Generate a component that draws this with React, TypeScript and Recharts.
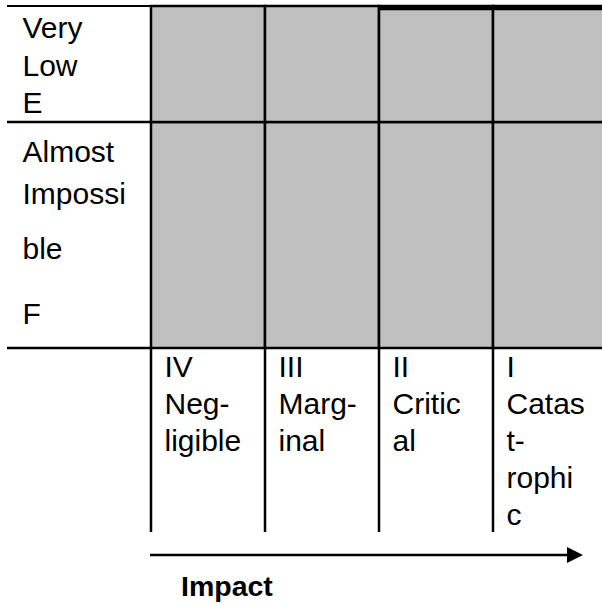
import { BarChart, Bar, XAxis, YAxis } from 'recharts'

// impact columns, left to right
const impactCodes = ['IV', 'III', 'II', 'I']
const impactNames = [
  ['Neg-', 'ligible'],
  ['Marg-', 'inal'],
  ['Critic', 'al'],
  ['Catas', 't-', 'rophi', 'c'],
]

// likelihood rows, bottom to top
const likelihoodCodes = ['F', 'E']
const likelihoodNames = [
  ['Almost', 'Impossi', 'ble'],
  ['Very', 'Low'],
]

const axisTitle = 'Impact'

// layout
const W = 610
const H = 604
const MARGIN = { top: 6, right: 3, left: 7, bottom: 0 }
const Y_AXIS_W = 144
const X_AXIS_H = 256
const PLOT_LEFT = MARGIN.left + Y_AXIS_W
const PLOT_W = W - MARGIN.left - MARGIN.right - Y_AXIS_W
const ROW_SPAN = [1.95, 1] // relative row heights, F then E
const LABEL_ROW_H = 184
const FONT = '"Liberation Sans", Arial, sans-serif'
const LINE_W = 2.5
const GRAY = '#c0c0c0'

// baselines of the row label lines, measured from the row top
const ROW_LINE_OFFSETS = [
  [40, 82, 137, 202],
  [32, 70, 107],
]
const COL_FIRST_LINE = 29
const COL_LINE_STEP = 37

const tableData = impactCodes.map(code => {
  const row: Record<string, string | number> = { code }
  likelihoodCodes.forEach((r, i) => (row[r] = ROW_SPAN[i]))
  return row
})

const rowBounds = ROW_SPAN.reduce<number[]>((acc, s) => [...acc, acc[acc.length - 1] + s], [0])
const yMax = rowBounds[rowBounds.length - 1]

function RowTick(props: any) {
  const { y, index } = props
  const row = index - 1 // tick 1 is top of F, tick 2 is top of E
  const lines = row >= 0 ? [...likelihoodNames[row], likelihoodCodes[row]] : []
  const isTop = index === rowBounds.length - 1
  return (
    <g>
      <line x1={MARGIN.left} x2={PLOT_LEFT} y1={y} y2={y} stroke="#000" strokeWidth={isTop ? 2 : LINE_W} />
      {isTop && (
        <line
          x1={PLOT_LEFT + (PLOT_W / impactCodes.length) * 2}
          x2={W}
          y1={y + 2}
          y2={y + 2}
          stroke="#000"
          strokeWidth={4.5}
        />
      )}
      {lines.map((t, i) => (
        <text key={t} x={MARGIN.left + 15.5} y={y + ROW_LINE_OFFSETS[row][i]} fontSize={30} fontFamily={FONT} fill="#000">
          {t}
        </text>
      ))}
    </g>
  )
}

function ImpactTick(props: any) {
  const { x, y, index } = props
  const bw = PLOT_W / impactCodes.length
  const left = x - bw / 2
  const lines = [impactCodes[index], ...impactNames[index]]
  return (
    <g>
      <line x1={left} x2={left} y1={y} y2={y + LABEL_ROW_H} stroke="#000" strokeWidth={LINE_W} />
      {index === impactCodes.length - 1 && (
        <line x1={left + bw} x2={left + bw} y1={y} y2={y + LABEL_ROW_H} stroke="#000" strokeWidth={LINE_W} />
      )}
      {lines.map((t, i) => (
        <text key={t} x={left + 13.5} y={y + COL_FIRST_LINE + i * COL_LINE_STEP} fontSize={30} fontFamily={FONT} fill="#000">
          {t}
        </text>
      ))}
    </g>
  )
}

function ImpactArrow(props: any) {
  const { viewBox } = props
  const x0 = viewBox.x - 1
  const ay = viewBox.y + 207
  const tip = 583
  return (
    <g>
      <line x1={x0} x2={tip - 14} y1={ay} y2={ay} stroke="#000" strokeWidth={2.5} />
      <polygon points={`${tip},${ay} ${tip - 16},${ay - 8} ${tip - 16},${ay + 8}`} fill="#000" />
      <text x={x0 + 31} y={viewBox.y + 248} fontSize={28.5} fontWeight="bold" fontFamily={FONT} fill="#000">
        {axisTitle}
      </text>
    </g>
  )
}

export default function App() {
  return (
    <div style={{ position: 'absolute', left: 0, top: 0, width: 602, height: 604, overflow: 'hidden', background: '#fff' }}>
      <BarChart width={W} height={H} data={tableData} margin={MARGIN} barCategoryGap={0} barGap={0}>
        {likelihoodCodes.map(r => (
          <Bar key={r} dataKey={r} stackId="cells" fill={GRAY} stroke="#000" strokeWidth={LINE_W} isAnimationActive={false} />
        ))}
        <XAxis
          dataKey="code"
          type="category"
          height={X_AXIS_H}
          interval={0}
          tickLine={false}
          axisLine={false}
          tickSize={0}
          tickMargin={0}
          tick={<ImpactTick />}
          label={<ImpactArrow />}
        />
        <YAxis
          type="number"
          domain={[0, yMax]}
          ticks={rowBounds}
          width={Y_AXIS_W}
          interval={0}
          tickLine={false}
          axisLine={false}
          tickSize={0}
          tickMargin={0}
          tick={<RowTick />}
        />
      </BarChart>
    </div>
  )
}
